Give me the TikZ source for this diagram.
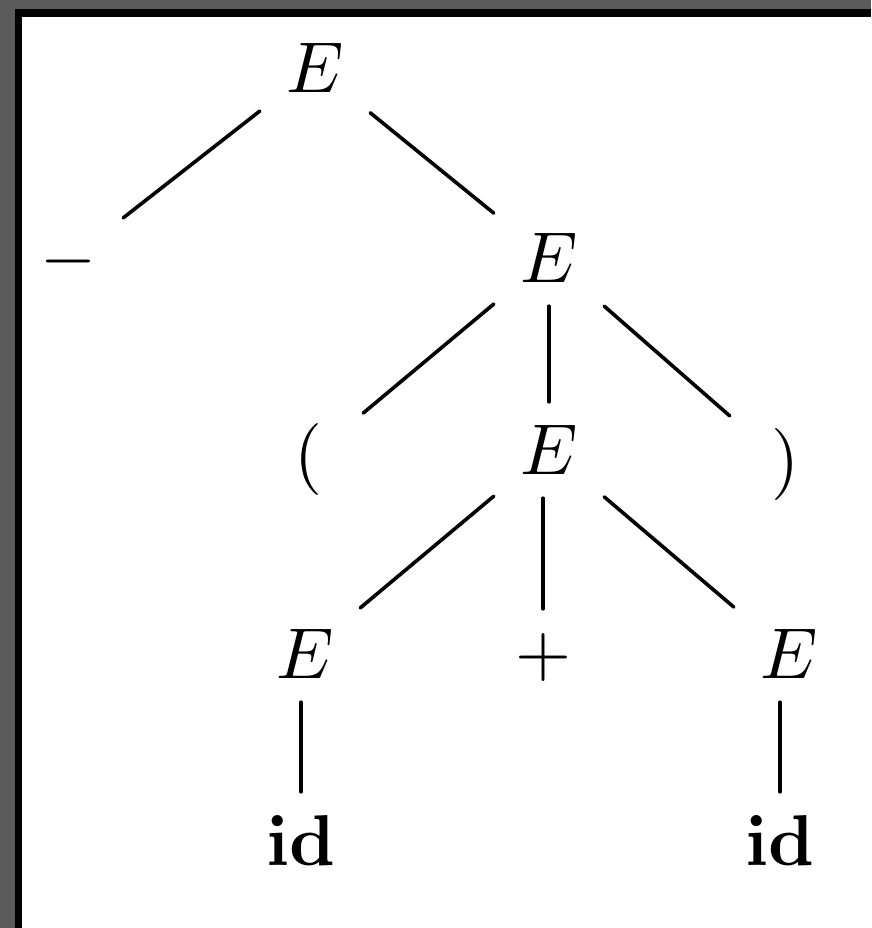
\documentclass[tikz,border=0pt]{standalone}
\usepackage{graphicx}
\definecolor{framegray}{HTML}{5B5B5B}
\newcommand{\bigsym}[1]{\scalebox{7.2}{#1}}
\tikzset{
  sym/.style={draw=none, rectangle, inner sep=0pt, minimum width=110pt, minimum height=96pt},
  edge/.style={line width=3.6pt, line cap=round}
}
\begin{document}
\begin{tikzpicture}[x=1pt,y=-1pt]
\useasboundingbox (0,0) rectangle (871,928);
\fill[framegray] (0,0) rectangle (871,928);
\fill[black] (15,9) rectangle (871,928);
\fill[white] (22,17) rectangle (871,928);

\node[sym] (e1) at (315,68) {\bigsym{$E$}};
\node[sym] (minus) at (68,261) {\bigsym{$-$}};
\node[sym] (e2) at (549,258) {\bigsym{$E$}};
\node[sym] (lp) at (308,459) {\bigsym{$($}};
\node[sym] (e3) at (549,450) {\bigsym{$E$}};
\node[sym] (rp) at (785,464) {\bigsym{$)$}};
\node[sym] (e4) at (305,654) {\bigsym{$E$}};
\node[sym] (plus) at (543,657) {\bigsym{$+$}};
\node[sym] (e5) at (789,654) {\bigsym{$E$}};
\node[sym] (id1) at (301,840) {\bigsym{$\mathbf{id}$}};
\node[sym] (id2) at (780,840) {\bigsym{$\mathbf{id}$}};

\draw[edge] (e1) -- (minus);
\draw[edge] (e1) -- (e2);
\draw[edge] (e2) -- (lp);
\draw[edge] (e2.south -| e3) -- (e3);
\draw[edge] (e2) -- (rp);
\draw[edge] (e3) -- (e4);
\draw[edge] (e3.south -| plus) -- (plus);
\draw[edge] (e3) -- (e5);
\draw[edge] (e4.south -| id1) -- (id1);
\draw[edge] (e5.south -| id2) -- (id2);
\end{tikzpicture}
\end{document}
